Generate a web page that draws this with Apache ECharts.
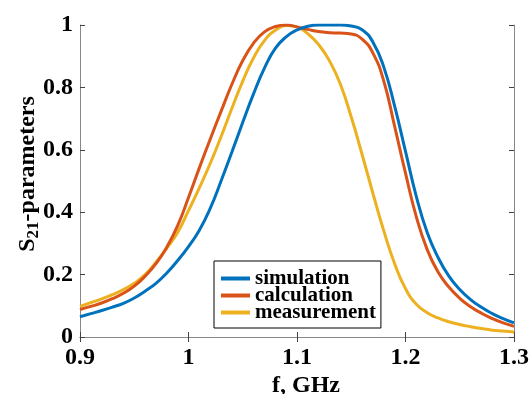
<!DOCTYPE html>
<html>
<head>
<meta charset="utf-8">
<script src="https://cdn.jsdelivr.net/npm/echarts@6/dist/echarts.min.js"></script>
<style>
  html, body { margin: 0; padding: 0; background: #fff; }
  #chart { width: 529px; height: 394px; }
</style>
</head>
<body>
<div id="chart"></div>
<script>
// frequency, GHz
const freq = [
  0.90, 0.91, 0.92, 0.93, 0.94, 0.95, 0.96, 0.97, 0.98, 0.99,
  1.00, 1.01, 1.02, 1.03, 1.04, 1.05, 1.06, 1.07, 1.08, 1.09,
  1.10, 1.11, 1.12, 1.13, 1.14, 1.15, 1.16, 1.17, 1.18, 1.19,
  1.20, 1.21, 1.22, 1.23, 1.24, 1.25, 1.26, 1.27, 1.28, 1.29, 1.30
]
const simulation = [
  0.065, 0.075, 0.085, 0.096, 0.108, 0.125, 0.147, 0.172, 0.205, 0.245,
  0.29, 0.342, 0.412, 0.5, 0.593, 0.688, 0.78, 0.862, 0.925, 0.962,
  0.984, 0.996, 1.0, 1.0, 1.0, 0.997, 0.985, 0.945, 0.865, 0.74,
  0.595, 0.45, 0.335, 0.255, 0.195, 0.152, 0.12, 0.095, 0.075, 0.059, 0.045
]
const calculation = [
  0.088, 0.098, 0.109, 0.123, 0.14, 0.163, 0.195, 0.235, 0.288, 0.357,
  0.447, 0.542, 0.634, 0.723, 0.81, 0.886, 0.942, 0.978, 0.995, 1.0,
  0.994, 0.986, 0.979, 0.975, 0.974, 0.971, 0.955, 0.91, 0.82, 0.675,
  0.525, 0.385, 0.28, 0.208, 0.16, 0.124, 0.097, 0.076, 0.059, 0.045, 0.034
]
const measurement = [
  0.098, 0.11, 0.122, 0.136, 0.152, 0.172, 0.2, 0.24, 0.285, 0.335,
  0.405, 0.478, 0.556, 0.642, 0.733, 0.82, 0.895, 0.95, 0.983, 0.998,
  0.993, 0.972, 0.937, 0.885, 0.81, 0.705, 0.585, 0.46, 0.34, 0.235,
  0.155, 0.105, 0.078, 0.061, 0.049, 0.04, 0.033, 0.027, 0.022, 0.019, 0.016
]
const xTicks = [0.9, 1, 1.1, 1.2, 1.3]
const yTicks = [0, 0.2, 0.4, 0.6, 0.8, 1]
const seriesNames = ['simulation', 'calculation', 'measurement']
const colors = ['#0072BD', '#D95319', '#EDB120']

const font = "'Liberation Serif', 'Times New Roman', serif"
const pair = (ys) => freq.map((f, i) => [f, ys[i]])

const frame = { show: true, lineStyle: { color: '#888', width: 1 } }
const ticks = { show: true, inside: true, length: 5, lineStyle: { color: '#444', width: 1 } }
const tickLabel = { fontFamily: font, fontWeight: 'bold', fontSize: 24, color: '#000' }

const chart = echarts.init(document.getElementById('chart'))
chart.setOption({
  animation: false,
  grid: { left: 80, right: 15, top: 25, bottom: 57, outerBoundsMode: 'none' },
  xAxis: [
    {
      type: 'value',
      min: xTicks[0], max: xTicks[xTicks.length - 1],
      interval: 0.1,
      axisLine: frame, axisTick: ticks, splitLine: { show: false },
      axisLabel: Object.assign({ margin: 9, formatter: (v) => String(+v.toFixed(2)) }, tickLabel),
      name: 'f, GHz',
      nameLocation: 'middle',
      nameGap: 37,
      nameMoveOverlap: false,
      nameTextStyle: { fontFamily: font, fontWeight: 'bold', fontSize: 24, color: '#000', padding: [0, 0, 0, 18] }
    },
    {
      type: 'value', position: 'top',
      min: xTicks[0], max: xTicks[xTicks.length - 1], interval: 0.1,
      axisLine: frame, axisTick: ticks, axisLabel: { show: false }, splitLine: { show: false }
    }
  ],
  yAxis: [
    {
      type: 'value',
      min: yTicks[0], max: yTicks[yTicks.length - 1], interval: 0.2,
      axisLine: frame, axisTick: ticks, splitLine: { show: false },
      axisLabel: Object.assign({ margin: 7, formatter: (v) => String(+v.toFixed(2)) }, tickLabel),
      name: 'S{sub|21}-parameters',
      nameLocation: 'middle',
      nameGap: 38,
      nameMoveOverlap: false,
      nameTextStyle: {
        fontFamily: font, fontWeight: 'bold', fontSize: 24, color: '#000',
        padding: [0, 0, 0, 14],
        rich: {
          sub: { fontFamily: font, fontWeight: 'bold', fontSize: 17, color: '#000', padding: [12, 0, 0, 0] }
        }
      }
    },
    {
      type: 'value', position: 'right',
      min: yTicks[0], max: yTicks[yTicks.length - 1], interval: 0.2,
      axisLine: frame, axisTick: ticks, axisLabel: { show: false }, splitLine: { show: false }
    }
  ],
  legend: {
    orient: 'vertical',
    left: 214, top: 261,
    data: seriesNames,
    icon: 'rect',
    itemWidth: 29, itemHeight: 4,
    itemGap: -4,
    padding: [7, 5, 5, 7],
    backgroundColor: '#fff',
    borderColor: '#000',
    borderWidth: 1,
    textStyle: { fontFamily: font, fontWeight: 'bold', fontSize: 21, lineHeight: 17, color: '#000' }
  },
  series: [simulation, calculation, measurement].map((ys, i) => ({
    name: seriesNames[i],
    type: 'line',
    data: pair(ys),
    smooth: true,
    showSymbol: false,
    color: colors[i],
    lineStyle: { width: 3, color: colors[i] },
    z: 3 - i
  }))
})
</script>
</body>
</html>
